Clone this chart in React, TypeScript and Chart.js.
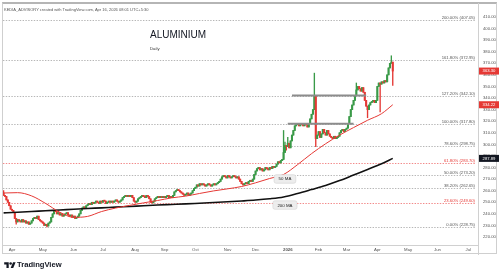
import React, { useEffect, useRef } from 'react';
import { Chart, registerables } from 'chart.js';

Chart.register(...registerables);

// ---------------- DATA ----------------
// daily closes, one per trading day (weekdays) starting Mon 24 Mar 2025
const closes = [
  256, 255, 252, 250, 247, 244, 243, 241, 236,
  233, 235, 234, 233, 235, 233,
  234, 232, 233, 231, 232, 234,
  236, 237, 236, 238, 235, 234, 233,
  232, 230, 231, 229.5, 232, 233,
  237, 240, 243, 242,
  240, 241, 239, 240, 238, 239, 240, 241, 239, 238, 239, 237, 238, 236, 237,
  238, 240, 243, 245, 246, 245, 247, 248,
  249, 248, 250, 249, 250, 251, 250, 249, 251, 250, 251.5, 251, 249, 250, 251,
  250, 251, 250, 251, 252, 251, 250, 251, 252,
  254, 255, 256, 255, 256, 255, 256, 254,
  251, 250, 251, 253, 254,
  255, 256, 255, 254, 256, 255, 253,
  250, 249.5, 251, 253, 254, 255,
  254, 255, 254, 255, 254, 255, 256, 254, 255, 254, 256,
  259, 260, 261, 260, 259, 258,
  257, 256, 257, 258, 256, 257, 258, 260,
  262, 263, 265, 264, 266, 265, 266,
  265, 264, 265, 266, 265, 264, 265, 266, 265, 266,
  267, 268, 270,
  272, 273, 272, 271, 273, 272, 271, 272, 273, 272, 271, 272, 270,
  268, 266, 265, 266,
  267, 266, 268, 269, 268, 270,
  274, 277, 279, 280, 278, 279, 277, 278, 280, 279, 278, 280, 279, 281, 280, 281,
  283, 285, 284, 286, 287,
  293, 299,
  298, 301, 297, 303,
  308, 312, 316, 317,
  318, 316, 318, 317, 316, 318, 317, 315, 318,
  322, 326, 330, 342, 305,
  308, 311, 306, 309, 313, 310, 308, 312, 309, 307,
  306, 305, 307, 305, 306, 307,
  310, 312, 313, 311, 313, 314,
  318, 324, 330, 334, 338, 342,
  347, 350, 348, 346, 349, 345,
  338, 333, 330, 334, 336,
  337, 338, 336, 338,
  350, 353, 352, 354, 353, 355, 354,
  360, 366, 370, 371, 363.3,
];
const firstOpen = 258;
// notable wicks: [bar index, price]
const highWicks: [number, number][] = [[0, 260], [200, 312], [201, 302], [203, 306], [222, 361.5], [252, 353], [277, 376.5]];
const lowWicks: [number, number][] = [[9, 231], [31, 228.75], [202, 295], [223, 298], [260, 323], [269, 328], [278, 351]];

// moving averages at these bar indices
const maIdx = [0, 10, 20, 30, 40, 50, 60, 70, 80, 90, 100, 110, 120, 130, 140, 150, 160, 170, 180, 190, 200, 210, 220, 230, 240, 250, 260, 270, 278];
const ma50 = [258, 258.3, 255.5, 249, 241.5, 237, 237.8, 242, 245, 247.3, 249.5, 251.5, 253.8, 255.3, 257.6, 259.8, 261.6, 263.6, 266.8, 270.5, 274, 282.5, 292, 300.5, 308, 314.5, 320.8, 326.5, 334.22];
const ma200 = [240.8, 241.4, 242, 242.7, 243.3, 244, 244.6, 245.2, 245.8, 246.4, 247, 247.6, 248.1, 248.6, 249.2, 249.8, 250.4, 251.1, 251.9, 253, 254.6, 257.6, 261, 264.5, 268.7, 273.5, 278.3, 283.2, 287.89];

// horizontal level lines [price, from bar, to bar]
const levelPrices = [342.1, 317.8];
const levelFrom = [206, 203];
const levelTo = [259, 250];

// fibonacci levels
const fibPct = ['200.00%', '161.80%', '127.20%', '100.00%', '78.60%', '61.80%', '50.00%', '38.20%', '23.60%', '0.00%'];
const fibPrice = [407.05, 372.95, 342.1, 317.8, 298.75, 283.7, 273.2, 262.65, 249.6, 228.75];
const fibRed = [false, false, false, false, false, true, false, false, true, false];

// MA annotation labels [text, bar index, price]
const maLabelText = ['50 MA', '200 MA'];
const maLabelIdx = [201, 201];
const maLabelPrice = [270.1, 247.6];

const yTicks = [220, 230, 240, 250, 260, 270, 280, 290, 300, 310, 320, 330, 340, 350, 360, 370, 380, 390, 400, 410];
const monthLabels = ['Apr', 'May', 'Jun', 'Jul', 'Aug', 'Sep', 'Oct', 'Nov', 'Dec', '2026', 'Feb', 'Mar', 'Apr', 'May', 'Jun', 'Jul'];

const Y_MIN = 213.1;
const Y_MAX = 414.3;
const X_MIN = -0.43;
const X_MAX = 338.9;
const FONT = '"Liberation Sans", Arial, sans-serif';
const UP = '#3a9a48';
const DOWN = '#e53935';

// weekday index of the first trading day of each month, starting from 24 Mar 2025
function monthTickIdx(): number[] {
  const res: number[] = [];
  const d = new Date(Date.UTC(2025, 2, 24));
  let idx = 0;
  let lastMonth = d.getUTCMonth();
  for (let k = 0; k < 800 && res.length < monthLabels.length; k++) {
    const day = d.getUTCDay();
    if (day !== 0 && day !== 6) {
      if (d.getUTCMonth() !== lastMonth) {
        res.push(idx);
        lastMonth = d.getUTCMonth();
      }
      idx++;
    }
    d.setUTCDate(d.getUTCDate() + 1);
  }
  return res;
}

function roundRect(ctx: CanvasRenderingContext2D, x: number, y: number, w: number, h: number, r: number) {
  ctx.beginPath();
  ctx.moveTo(x + r, y);
  ctx.lineTo(x + w - r, y);
  ctx.quadraticCurveTo(x + w, y, x + w, y + r);
  ctx.lineTo(x + w, y + h - r);
  ctx.quadraticCurveTo(x + w, y + h, x + w - r, y + h);
  ctx.lineTo(x + r, y + h);
  ctx.quadraticCurveTo(x, y + h, x, y + h - r);
  ctx.lineTo(x, y + r);
  ctx.quadraticCurveTo(x, y, x + r, y);
  ctx.closePath();
}

export default function App() {
  const ref = useRef<HTMLCanvasElement | null>(null);

  useEffect(() => {
    if (!ref.current) return;
    const opens = closes.map((c, i) => (i === 0 ? firstOpen : closes[i - 1]));
    const highs = closes.map((c, i) => Math.max(opens[i], c));
    const lows = closes.map((c, i) => Math.min(opens[i], c));
    highWicks.forEach(([i, v]) => { highs[i] = Math.max(highs[i], v); });
    lowWicks.forEach(([i, v]) => { lows[i] = Math.min(lows[i], v); });
    const colors = closes.map((c, i) => (c >= opens[i] ? UP : DOWN));
    const ticksX = monthTickIdx();

    const lastClose = closes[closes.length - 1];
    const priceBoxes: [number, string][] = [
      [lastClose, DOWN],
      [ma50[ma50.length - 1], DOWN],
      [ma200[ma200.length - 1], '#131722'],
    ];

    const overlay = {
      id: 'overlay',
      beforeDatasetsDraw(chart: any) {
        const { ctx, chartArea: a, scales } = chart;
        const y = scales.y;
        ctx.save();
        ctx.strokeStyle = '#d0d0d0';
        ctx.lineWidth = 1;
        ctx.beginPath();
        ctx.moveTo(a.right + 0.5, 3);
        ctx.lineTo(a.right + 0.5, 255);
        ctx.moveTo(3, a.bottom + 0.5);
        ctx.lineTo(a.right, a.bottom + 0.5);
        ctx.stroke();
        fibPrice.forEach((p, i) => {
          const py = Math.round(y.getPixelForValue(p)) + 0.5;
          ctx.strokeStyle = fibRed[i] ? '#ef6b6b' : '#a5a5a5';
          ctx.lineWidth = 0.8;
          ctx.setLineDash([1.4, 1.4]);
          ctx.beginPath();
          ctx.moveTo(a.left, py);
          ctx.lineTo(a.right - 3, py);
          ctx.stroke();
          ctx.setLineDash([]);
          ctx.fillStyle = fibRed[i] ? '#e53935' : '#555';
          ctx.font = `4.2px ${FONT}`;
          ctx.textAlign = 'right';
          ctx.textBaseline = 'bottom';
          ctx.fillText(`${fibPct[i]} (${p.toFixed(2)})`, a.right - 3, py - 1);
        });
        ctx.restore();
      },
      afterDatasetsDraw(chart: any) {
        const { ctx, scales } = chart;
        ctx.save();
        maLabelText.forEach((t, i) => {
          const cx = scales.x.getPixelForValue(maLabelIdx[i]);
          const cy = scales.y.getPixelForValue(maLabelPrice[i]);
          ctx.font = `4.4px ${FONT}`;
          const w = ctx.measureText(t).width + 9;
          const h = 8.5;
          roundRect(ctx, cx - w / 2, cy - h / 2, w, h, 2);
          ctx.fillStyle = '#ededed';
          ctx.fill();
          ctx.strokeStyle = '#d2d2d2';
          ctx.lineWidth = 0.6;
          ctx.stroke();
          ctx.fillStyle = '#222';
          ctx.textAlign = 'center';
          ctx.textBaseline = 'middle';
          ctx.fillText(t, cx, cy + 0.3);
        });
        ctx.restore();
      },
      afterDraw(chart: any) {
        const { ctx, chartArea: a, scales } = chart;
        ctx.save();
        priceBoxes.forEach(([v, col]) => {
          const py = scales.y.getPixelForValue(v);
          ctx.fillStyle = col;
          ctx.fillRect(a.right + 1, py - 3.5, 20, 7);
          ctx.fillStyle = '#fff';
          ctx.font = `4.2px ${FONT}`;
          ctx.textAlign = 'center';
          ctx.textBaseline = 'middle';
          ctx.fillText(v.toFixed(2), a.right + 11, py + 0.2);
        });
        ctx.restore();
      },
    };

    const chart = new Chart(ref.current, {
      type: 'bar',
      data: {
        datasets: [
          {
            type: 'bar',
            label: 'wick',
            data: closes.map((c, i) => ({ x: i, y: [lows[i], highs[i]] })) as any,
            backgroundColor: colors,
            borderWidth: 0,
            barThickness: 0.7,
            grouped: false,
            order: 4,
          } as any,
          {
            type: 'bar',
            label: 'body',
            data: closes.map((c, i) => ({ x: i, y: [opens[i], c] })) as any,
            backgroundColor: colors,
            borderWidth: 0,
            barThickness: 1.4,
            minBarLength: 1,
            grouped: false,
            order: 3,
          } as any,
          {
            type: 'line',
            label: '50 MA',
            data: maIdx.map((v, k) => ({ x: v, y: ma50[k] })),
            borderColor: '#e53935',
            borderWidth: 1,
            pointRadius: 0,
            cubicInterpolationMode: 'monotone',
            order: 1,
          } as any,
          {
            type: 'line',
            label: '200 MA',
            data: maIdx.map((v, k) => ({ x: v, y: ma200[k] })),
            borderColor: '#111',
            borderWidth: 1.6,
            pointRadius: 0,
            cubicInterpolationMode: 'monotone',
            order: 1,
          } as any,
          ...levelPrices.map((p, k) => ({
            type: 'line',
            label: 'level' + k,
            data: [{ x: levelFrom[k], y: p }, { x: levelTo[k], y: p }],
            borderColor: '#8c8c8c',
            borderWidth: 2,
            pointRadius: 0,
            order: 2,
          } as any)),
        ],
      },
      options: {
        responsive: false,
        animation: false,
        events: [],
        layout: { padding: { left: 3, top: 12, right: 0, bottom: 18 } },
        plugins: { legend: { display: false }, tooltip: { enabled: false } },
        scales: {
          x: {
            type: 'linear',
            min: X_MIN,
            max: X_MAX,
            offset: false,
            grid: { display: false, drawTicks: false },
            border: { display: false },
            afterBuildTicks: (s: any) => { s.ticks = ticksX.map((v) => ({ value: v })); },
            afterFit: (s: any) => { s.height = 10; },
            ticks: {
              autoSkip: false,
              maxRotation: 0,
              padding: 2,
              color: '#555',
              font: (ctx: any) => ({ size: 4.3, family: FONT, weight: ctx.index === 9 ? 'bold' : 'normal' }),
              callback: (v: any) => {
                const k = ticksX.indexOf(Number(v));
                return k >= 0 ? monthLabels[k] : '';
              },
            },
          },
          y: {
            type: 'linear',
            position: 'right',
            min: Y_MIN,
            max: Y_MAX,
            grid: { display: false, drawTicks: false },
            border: { display: false },
            afterBuildTicks: (s: any) => { s.ticks = yTicks.map((v) => ({ value: v })); },
            afterFit: (s: any) => { s.width = 22; },
            ticks: {
              padding: 5,
              color: '#555',
              font: { size: 4.2, family: FONT },
              callback: (v: any) => Number(v).toFixed(2),
            },
          },
        },
      } as any,
      plugins: [overlay],
    });
    return () => chart.destroy();
  }, []);

  return (
    <div style={{ position: 'fixed', left: 0, top: 0, width: 500, height: 273, background: '#fff', overflow: 'hidden', fontFamily: FONT }}>
      <div style={{ position: 'absolute', left: 2, top: 2, width: 495, height: 252, border: '1px solid #cfcfcf', borderTop: '2px solid #b5b5b5', boxSizing: 'border-box' }} />
      <canvas ref={ref} width={500} height={273} style={{ position: 'absolute', left: 0, top: 0, width: 500, height: 273 }} />
      <div style={{ position: 'absolute', left: 4, top: 6.5, fontSize: 4, lineHeight: '5px', color: '#555', whiteSpace: 'nowrap' }}>
        KEDIA_ADVISORY created with TradingView.com, Apr 16, 2026 08:01 UTC+5:30
      </div>
      <div style={{ position: 'absolute', left: 150, top: 28.5, fontSize: 10, lineHeight: '12px', color: '#131722', whiteSpace: 'nowrap' }}>
        ALUMINIUM
      </div>
      <div style={{ position: 'absolute', left: 150, top: 45.5, fontSize: 4.3, lineHeight: '5px', color: '#333', whiteSpace: 'nowrap' }}>
        Daily
      </div>
      <svg style={{ position: 'absolute', left: 4, top: 261 }} width={12} height={9} viewBox="0 0 36 28">
        <path d="M14 22H7V11H0V4h14v18zM28 22h-8l7.5-18h8L28 22z" fill="#131722" />
        <circle cx="20" cy="8" r="4" fill="#131722" />
      </svg>
      <div style={{ position: 'absolute', left: 17, top: 259.5, fontSize: 7.6, lineHeight: '9px', fontWeight: 'bold', color: '#131722', whiteSpace: 'nowrap' }}>
        TradingView
      </div>
    </div>
  );
}
